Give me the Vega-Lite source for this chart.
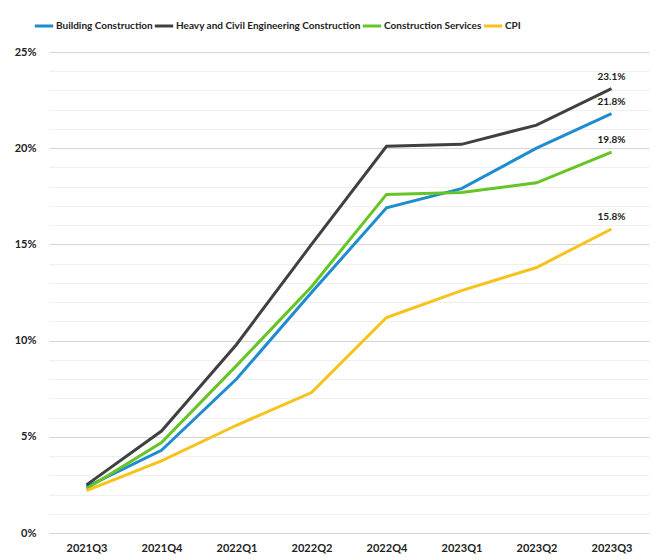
{
  "$schema": "https://vega.github.io/schema/vega-lite/v6.json",
  "width": 600,
  "height": 481,
  "autosize": {"type": "none"},
  "padding": {"left": 49, "top": 52, "right": 9, "bottom": 27},
  "background": "white",
  "data": {
    "values": [
      {"quarter": "2021Q3", "series": "Building Construction", "value": 0.024},
      {"quarter": "2021Q4", "series": "Building Construction", "value": 0.043},
      {"quarter": "2022Q1", "series": "Building Construction", "value": 0.080},
      {"quarter": "2022Q2", "series": "Building Construction", "value": 0.125},
      {"quarter": "2022Q4", "series": "Building Construction", "value": 0.169},
      {"quarter": "2023Q1", "series": "Building Construction", "value": 0.179},
      {"quarter": "2023Q2", "series": "Building Construction", "value": 0.200},
      {"quarter": "2023Q3", "series": "Building Construction", "value": 0.218},
      {"quarter": "2021Q3", "series": "Heavy and Civil Engineering Construction", "value": 0.025},
      {"quarter": "2021Q4", "series": "Heavy and Civil Engineering Construction", "value": 0.053},
      {"quarter": "2022Q1", "series": "Heavy and Civil Engineering Construction", "value": 0.098},
      {"quarter": "2022Q2", "series": "Heavy and Civil Engineering Construction", "value": 0.150},
      {"quarter": "2022Q4", "series": "Heavy and Civil Engineering Construction", "value": 0.201},
      {"quarter": "2023Q1", "series": "Heavy and Civil Engineering Construction", "value": 0.202},
      {"quarter": "2023Q2", "series": "Heavy and Civil Engineering Construction", "value": 0.212},
      {"quarter": "2023Q3", "series": "Heavy and Civil Engineering Construction", "value": 0.231},
      {"quarter": "2021Q3", "series": "Construction Services", "value": 0.023},
      {"quarter": "2021Q4", "series": "Construction Services", "value": 0.047},
      {"quarter": "2022Q1", "series": "Construction Services", "value": 0.087},
      {"quarter": "2022Q2", "series": "Construction Services", "value": 0.128},
      {"quarter": "2022Q4", "series": "Construction Services", "value": 0.176},
      {"quarter": "2023Q1", "series": "Construction Services", "value": 0.177},
      {"quarter": "2023Q2", "series": "Construction Services", "value": 0.182},
      {"quarter": "2023Q3", "series": "Construction Services", "value": 0.198},
      {"quarter": "2021Q3", "series": "CPI", "value": 0.022},
      {"quarter": "2021Q4", "series": "CPI", "value": 0.0375},
      {"quarter": "2022Q1", "series": "CPI", "value": 0.056},
      {"quarter": "2022Q2", "series": "CPI", "value": 0.073},
      {"quarter": "2022Q4", "series": "CPI", "value": 0.112},
      {"quarter": "2023Q1", "series": "CPI", "value": 0.126},
      {"quarter": "2023Q2", "series": "CPI", "value": 0.138},
      {"quarter": "2023Q3", "series": "CPI", "value": 0.158}
    ]
  },
  "encoding": {
    "x": {
      "field": "quarter", "type": "ordinal",
      "scale": {"type": "point", "padding": 0.5},
      "axis": {
        "title": null, "labelAngle": 0, "ticks": false, "domain": false, "grid": false,
        "labelFont": "Lato", "labelFontSize": 11, "labelFontWeight": "bold",
        "labelColor": "#222222", "labelPadding": 9
      }
    },
    "y": {
      "field": "value", "type": "quantitative",
      "scale": {"domain": [0, 0.25], "nice": false},
      "axis": {
        "title": null, "format": ".0%", "ticks": false, "domain": false,
        "values": [0,0.01,0.02,0.03,0.04,0.05,0.06,0.07,0.08,0.09,0.10,0.11,0.12,0.13,0.14,0.15,0.16,0.17,0.18,0.19,0.20,0.21,0.22,0.23,0.24,0.25],
        "labelExpr": "round(datum.value*100) % 5 == 0 ? datum.label : ''",
        "gridColor": {"condition": {"test": "round(datum.value*100) % 5 == 0", "value": "#d4d4d4"}, "value": "#efefef"},
        "gridWidth": 1,
        "labelFont": "Lato", "labelFontSize": 11, "labelFontWeight": "bold",
        "labelColor": "#222222", "labelPadding": 13
      }
    },
    "color": {
      "field": "series", "type": "nominal",
      "scale": {
        "domain": ["Building Construction", "Heavy and Civil Engineering Construction", "Construction Services", "CPI"],
        "range": ["#1f8ccf", "#404040", "#66c424", "#f7c21b"]
      },
      "legend": {
        "title": null, "orient": "none", "direction": "horizontal",
        "legendX": -16, "legendY": -37,
        "symbolType": "stroke", "symbolStrokeWidth": 3, "symbolSize": 340,
        "labelFont": "Lato", "labelFontSize": 10, "labelFontWeight": "bold",
        "labelColor": "#222222", "columnPadding": -7, "labelOffset": 1,
        "labelLimit": 400
      }
    }
  },
  "layer": [
    {"mark": {"type": "line", "strokeWidth": 3}},
    {
      "transform": [{"filter": "datum.quarter == '2023Q3'"}],
      "mark": {"type": "text", "dy": -12, "font": "Lato", "fontSize": 10, "fontWeight": "bold", "color": "#222222"},
      "encoding": {
        "text": {"field": "value", "type": "quantitative", "format": ".1%"},
        "color": {"value": "#222222"}
      }
    }
  ],
  "config": {"view": {"stroke": null}}
}
